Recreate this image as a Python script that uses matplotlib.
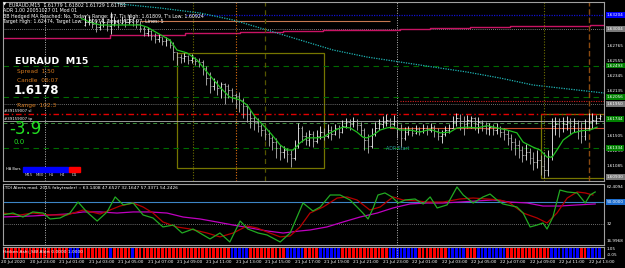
import matplotlib
matplotlib.use("Agg")
import matplotlib.pyplot as plt
import matplotlib.transforms as mtransforms
from matplotlib.patches import Rectangle

W, H = 625, 268

# ---- EURAUD M15 bars (bar 0 = 20 Jul 21:00), only visible bars ----
first_bar = 23
open_first = 1.6306
closes = [1.6310, 1.6313, 1.6307, 1.6303, 1.6306, 1.6310, 1.6305, 1.6307, 1.6312, 1.6309,
          1.6313, 1.6310, 1.6314, 1.6312, 1.6307, 1.6302, 1.6295, 1.6298, 1.6291, 1.6286,
          1.6289, 1.6284, 1.6285, 1.6278, 1.6268, 1.6261, 1.6260, 1.6263, 1.6257, 1.6260,
          1.6256, 1.6254, 1.6246, 1.6232, 1.6221, 1.6226, 1.6218, 1.6223, 1.6221, 1.6215,
          1.6208, 1.6207, 1.6201, 1.6193, 1.6181, 1.6176, 1.6170, 1.6165, 1.6159, 1.6153,
          1.6148, 1.6142, 1.6134, 1.6128, 1.6131, 1.6125, 1.6120, 1.6137, 1.6162, 1.6151,
          1.6145, 1.6153, 1.6144, 1.6151, 1.6156, 1.6151, 1.6159, 1.6153, 1.6162, 1.6156,
          1.6165, 1.6170, 1.6167, 1.6172, 1.6166, 1.6159, 1.6145, 1.6137, 1.6153, 1.6162,
          1.6167, 1.6170, 1.6173, 1.6167, 1.6172, 1.6162, 1.6148, 1.6156, 1.6159, 1.6155,
          1.6160, 1.6158, 1.6162, 1.6159, 1.6163, 1.6158, 1.6151, 1.6153, 1.6159, 1.6162,
          1.6170, 1.6176, 1.6172, 1.6167, 1.6173, 1.6176, 1.6167, 1.6170, 1.6165, 1.6160,
          1.6163, 1.6159, 1.6162, 1.6156, 1.6153, 1.6148, 1.6142, 1.6138, 1.6131, 1.6124,
          1.6128, 1.6120, 1.6114, 1.6117, 1.6109, 1.6103, 1.6123, 1.6165, 1.6167, 1.6162,
          1.6167, 1.6170, 1.6165, 1.6169, 1.6159, 1.6151, 1.6162, 1.6170, 1.6173, 1.6176,
          1.6178]
highs = [1.6320, 1.6319, 1.6316, 1.6313, 1.6312, 1.6316, 1.6313, 1.6324, 1.6317, 1.6314,
         1.6319, 1.6316, 1.6320, 1.6317, 1.6314, 1.6310, 1.6305, 1.6303, 1.6299, 1.6295,
         1.6293, 1.6289, 1.6289, 1.6286, 1.6282, 1.6268, 1.6265, 1.6267, 1.6264, 1.6265,
         1.6261, 1.6260, 1.6257, 1.6249, 1.6240, 1.6232, 1.6229, 1.6226, 1.6225, 1.6223,
         1.6218, 1.6211, 1.6212, 1.6204, 1.6195, 1.6187, 1.6180, 1.6176, 1.6167, 1.6162,
         1.6159, 1.6151, 1.6148, 1.6138, 1.6137, 1.6134, 1.6131, 1.6145, 1.6169, 1.6165,
         1.6156, 1.6159, 1.6158, 1.6159, 1.6165, 1.6162, 1.6167, 1.6165, 1.6167, 1.6166,
         1.6173, 1.6176, 1.6174, 1.6177, 1.6174, 1.6170, 1.6162, 1.6153, 1.6162, 1.6170,
         1.6174, 1.6179, 1.6181, 1.6176, 1.6180, 1.6173, 1.6167, 1.6163, 1.6165, 1.6163,
         1.6166, 1.6163, 1.6167, 1.6166, 1.6169, 1.6166, 1.6162, 1.6159, 1.6165, 1.6167,
         1.6179, 1.6183, 1.6181, 1.6179, 1.6180, 1.6179, 1.6177, 1.6177, 1.6173, 1.6170,
         1.6169, 1.6167, 1.6169, 1.6165, 1.6162, 1.6159, 1.6153, 1.6148, 1.6145, 1.6137,
         1.6139, 1.6134, 1.6128, 1.6131, 1.6124, 1.6128, 1.6131, 1.6176, 1.6177, 1.6176,
         1.6177, 1.6179, 1.6176, 1.6176, 1.6173, 1.6170, 1.6174, 1.6183, 1.6183, 1.6180,
         1.6181]
lows = [1.6305, 1.6306, 1.6302, 1.6296, 1.6299, 1.6303, 1.6298, 1.6293, 1.6305, 1.6302,
        1.6307, 1.6303, 1.6307, 1.6305, 1.6302, 1.6296, 1.6291, 1.6291, 1.6285, 1.6281,
        1.6282, 1.6278, 1.6277, 1.6274, 1.6257, 1.6250, 1.6253, 1.6254, 1.6251, 1.6253,
        1.6250, 1.6247, 1.6236, 1.6222, 1.6211, 1.6215, 1.6208, 1.6204, 1.6195, 1.6204,
        1.6198, 1.6190, 1.6184, 1.6176, 1.6170, 1.6162, 1.6159, 1.6156, 1.6151, 1.6145,
        1.6137, 1.6131, 1.6120, 1.6117, 1.6120, 1.6114, 1.6107, 1.6117, 1.6134, 1.6142,
        1.6138, 1.6137, 1.6135, 1.6141, 1.6146, 1.6145, 1.6148, 1.6145, 1.6152, 1.6148,
        1.6155, 1.6162, 1.6159, 1.6163, 1.6159, 1.6151, 1.6131, 1.6127, 1.6134, 1.6151,
        1.6159, 1.6162, 1.6165, 1.6162, 1.6165, 1.6148, 1.6135, 1.6145, 1.6152, 1.6151,
        1.6153, 1.6152, 1.6155, 1.6152, 1.6156, 1.6149, 1.6145, 1.6141, 1.6151, 1.6155,
        1.6162, 1.6165, 1.6159, 1.6152, 1.6162, 1.6162, 1.6159, 1.6155, 1.6158, 1.6153,
        1.6152, 1.6152, 1.6153, 1.6149, 1.6145, 1.6138, 1.6131, 1.6124, 1.6120, 1.6114,
        1.6117, 1.6111, 1.6103, 1.6106, 1.6096, 1.6092, 1.6095, 1.6117, 1.6152, 1.6149,
        1.6156, 1.6159, 1.6153, 1.6156, 1.6146, 1.6141, 1.6145, 1.6159, 1.6162, 1.6167,
        1.6173]

# fast MA (green) and slow MA (cyan dotted)
ma_bars = [22, 24.4, 27.1, 38, 39.9, 42.6, 46.1, 48, 50.7, 53.5, 56.2, 59.7, 62.4, 65.2, 67.1,
           69.3, 72, 73.9, 76.1, 78, 79.6, 81.5, 83.4, 86.1, 87.8, 89.7, 91.6, 93.2, 95.1, 97,
           98.6, 99.7, 101.4, 103.3, 105.2, 106.8, 108.7, 111.4, 114.1, 116.9, 119.6, 122.3,
           124.2, 126.9, 129.7, 132.4, 135.1, 137.8, 140.5, 142.2, 144.9, 146.8, 148.7, 150.1,
           151.4, 153.1, 155.8, 158.2, 160.4, 162.3]
ma_vals = [1.6315, 1.6310, 1.6306, 1.6306, 1.6303, 1.6295, 1.6285, 1.6271, 1.6267, 1.6257,
           1.6240, 1.6219, 1.6205, 1.6201, 1.6194, 1.6177, 1.6163, 1.6152, 1.6138, 1.6131,
           1.6131, 1.6141, 1.6148, 1.6148, 1.6149, 1.6155, 1.6160, 1.6163, 1.6162, 1.6156,
           1.6149, 1.6148, 1.6152, 1.6159, 1.6162, 1.6163, 1.6159, 1.6159, 1.6156, 1.6160,
           1.6155, 1.6156, 1.6162, 1.6163, 1.6162, 1.6165, 1.6162, 1.6159, 1.6155, 1.6142,
           1.6135, 1.6131, 1.6121, 1.6121, 1.6131, 1.6145, 1.6155, 1.6158, 1.6159, 1.6163]
slow_bars = [27.1, 32.5, 43.4, 54.3, 63.3, 72.5, 81.5, 90.5, 99.7, 108.7, 117.7, 126.9,
             135.9, 144.9, 156.9, 164.2]
slow_vals = [1.63438, 1.63354, 1.63298, 1.63228, 1.63130, 1.62990, 1.62850, 1.62710,
             1.62612, 1.62542, 1.62472, 1.62402, 1.62318, 1.62220, 1.62150, 1.62108]
h1_bars = [0, 29.8, 50.2, 65.2, 76.9, 87.8, 93.2, 108.7, 116.9, 127.8, 138.6, 150.9, 160.4, 164.2]
h1_vals = [1.62878, 1.62920, 1.62948, 1.62962, 1.62976, 1.62986, 1.62997, 1.63004, 1.63014,
           1.63028, 1.63042, 1.63053, 1.63064, 1.63064]

# levels
blue_lvl = 1.63204
orange_lvl = 1.63112
gray_hi_lvl = 1.63004
green_lvls = [1.62493, 1.62056, 1.61334]
red_dot_lvl = 1.61996
gray_lo_lvl = 1.61950
today_high = 1.61809
bid_lvl = 1.61720
green_lt_lvl = 1.61688
today_low_line = 1.61624
box1 = (48.0, 88.0, 1.61054, 1.62664)
box2 = (147.0, 166.0, 1.60914, 1.61810)
day_seps = [12, 108]

# TDI
tdi_g_x = [0.4, 3.4, 6.1, 8.8, 11.6, 13.5, 16.2, 18.9, 21.1, 23.5, 26.3, 29, 31.2, 33.4, 36.1,
           38.8, 41.5, 44.2, 47, 49.4, 52.4, 57, 59.7, 62.4, 65.2, 67.3, 70.1, 72.5, 76.1, 78.8,
           82.3, 85, 87, 89.7, 92.4, 95.1, 97, 98.6, 100, 101.4, 102.7, 104.6, 106.5, 108.2,
           110.1, 112.8, 115, 116.9, 118.8, 121.5, 124.2, 125.9, 128.6, 131.3, 133.2, 135.1,
           136.7, 140.5, 142.2, 144.1, 146, 147.6, 148.7, 150.3, 152.2, 154.2, 156.9, 159.1,
           160.4, 161.8]
tdi_g_y = [39.3, 40.9, 37.6, 41.8, 40.9, 36.0, 36.8, 40.9, 50.0, 41.8, 34.3, 41.8, 54.2, 47.6,
           49.2, 39.3, 36.8, 29.4, 31.0, 24.4, 27.7, 19.5, 24.4, 17.0, 34.3, 27.7, 24.4, 22.8,
           17.0, 24.4, 49.2, 42.6, 45.9, 55.8, 55.8, 51.7, 45.9, 40.9, 36.0, 45.1, 55.8, 57.5,
           54.2, 49.2, 51.7, 52.5, 48.4, 54.2, 45.1, 47.6, 62.4, 55.8, 49.2, 54.2, 56.6, 51.7,
           48.4, 45.9, 40.9, 29.4, 31.0, 32.7, 27.7, 37.6, 59.9, 58.3, 57.5, 49.2, 55.8, 58.3]
tdi_r_x = [0.4, 5.3, 8.8, 13.5, 18.1, 22.5, 27.1, 29.8, 32.5, 36.1, 38.8, 41.5, 44.2, 48, 51.6,
           56.2, 59.7, 63.3, 67.1, 69.8, 72.5, 76.1, 78.8, 81.5, 84.2, 87.8, 91.6, 94.3, 97,
           100.5, 103.3, 106.8, 109.5, 113.3, 116.1, 120.4, 125, 128.6, 132.4, 135.9, 138.6,
           142.2, 146, 148.7, 151.4, 154.2, 156.9, 159.1, 161.2]
tdi_r_y = [40.9, 39.3, 40.9, 39.3, 39.3, 43.4, 40.1, 43.4, 46.7, 49.2, 45.9, 40.9, 33.5, 29.4,
           27.7, 24.4, 21.2, 24.4, 30.2, 28.6, 25.3, 21.2, 22.0, 29.4, 40.9, 45.9, 53.3, 54.2,
           51.7, 43.4, 45.9, 54.2, 51.7, 50.9, 50.0, 50.0, 52.5, 53.3, 52.5, 51.7, 49.2, 40.9,
           36.8, 32.7, 40.9, 53.3, 58.3, 57.5, 55.8]
tdi_m_x = [0, 8.8, 18.1, 22.5, 27.1, 31.7, 36.1, 40.7, 45.3, 49.7, 54.3, 58.9, 63.3, 67.9, 72.5,
           76.9, 81.5, 84.2, 88.8, 93.2, 97.8, 102.5, 106.8, 111.4, 116.1, 120.4, 125, 129.7,
           134, 138.6, 143.3, 147.6, 152.2, 156.9, 161.8]
tdi_m_y = [37.6, 38.5, 40.1, 41.8, 41.8, 40.9, 41.8, 41.8, 40.9, 37.6, 36.0, 33.5, 31.0, 28.6,
           26.1, 24.4, 26.1, 26.9, 29.4, 33.5, 37.6, 40.9, 45.1, 48.4, 49.2, 49.2, 50.0, 50.9,
           51.7, 50.0, 49.2, 46.7, 46.7, 47.6, 48.4]

# Heiken Ashi colours per bar (r = bear, b = bull)
ha_colors = ("rrrrrrrrrrrrrrrrrrr bbb rrrrrrrr b rrrrr b rrrrrrrrrrrrrrrrrrrrrrrrrr bbbbb "
             "rrrrrrrrrr bbbbb rrrr bbbbbb rrrrrrrrrrrrr bbbbbbbb rrrrrrrr bbbbb rrr "
             "bbbbbbbb rrrrrrrrrrrr bbbbbbbb rr bbbb").replace(" ", "")

time_ticks = list(range(0, 161, 8))
time_labels = ["20 Jul 2020", "20 Jul 23:00", "21 Jul 01:00", "21 Jul 03:00", "21 Jul 05:00",
               "21 Jul 07:00", "21 Jul 09:00", "21 Jul 11:00", "21 Jul 13:00", "21 Jul 15:00",
               "21 Jul 17:00", "21 Jul 19:00", "21 Jul 21:00", "21 Jul 23:00", "22 Jul 01:00",
               "22 Jul 03:00", "22 Jul 05:00", "22 Jul 07:00", "22 Jul 09:00", "22 Jul 11:00",
               "22 Jul 13:00"]
price_ticks = [1.62765, 1.62555, 1.62345, 1.62135, 1.61505, 1.61295, 1.61085]


def rect(x0, y0, x1, y1):
    return [x0 / W, 1 - y1 / H, (x1 - x0) / W, (y1 - y0) / H]


def ftext(x, y, s, **kw):
    kw.setdefault("color", "white")
    kw.setdefault("fontsize", 3.4)
    fig.text(x / W, 1 - y / H, s, va="center", ha=kw.pop("ha", "left"), **kw)


fig = plt.figure(figsize=(W / 100, H / 100), dpi=100, facecolor="black")
XL = (0.68, 164.2)

ax = fig.add_axes(rect(3, 1.5, 604, 181))
ax_tdi = fig.add_axes(rect(3, 183.5, 604, 245))
ax_ha = fig.add_axes(rect(3, 247, 604, 258))
for a in (ax, ax_tdi, ax_ha):
    a.set_facecolor("black")
    a.set_xlim(*XL)
    a.set_xticks([])
    a.set_yticks([])
    for sp in a.spines.values():
        sp.set_color("#a0a0a0")
        sp.set_linewidth(0.8)
    for d in day_seps:
        a.axvline(d, color="#b8b8b8", lw=0.7, ls=(0, (1, 1.5)))

ax.set_ylim(1.60876, 1.63389)
ax_tdi.set_ylim(14.5, 65.3)
ax_ha.set_ylim(0, 1)

# ---- main chart lines ----
ax.axhline(gray_hi_lvl, color="#a0a0a0", lw=0.6, ls=(0, (1, 1.5)))
ax.hlines(blue_lvl, 50.5, XL[1], color="#1010d0", lw=0.9, ls=(0, (1, 1)))
ax.hlines(orange_lvl, 38, 106, color="#c87850", lw=0.8)
for g in green_lvls:
    ax.axhline(g, color="#006a00", lw=0.8, ls=(0, (5, 4)))
ax.hlines(red_dot_lvl, 108.7, XL[1], color="#d02020", lw=0.8, ls=(0, (1, 1.2)))
ax.axhline(gray_lo_lvl, color="#909090", lw=0.6, ls=(0, (1, 1.5)))
ax.axhline(today_high, color="#e00000", lw=1.0, ls=(0, (4, 2, 1, 2)))
ax.axhline(bid_lvl, color="#b0b0b0", lw=0.6)
ax.axhline(green_lt_lvl, color="#3c8c3c", lw=0.7, ls=(0, (4, 3)))
ax.hlines(today_low_line, 106, XL[1], color="#c84828", lw=0.8)
ax.plot(h1_bars, h1_vals, color="#c81464", lw=1.0, drawstyle="steps-post")
ax.plot(slow_bars, slow_vals, color="#1eb4b4", lw=0.9, ls=(0, (1, 1)))

ax.axvline(52.4, color="#6e6e00", lw=0.8, ls=(0, (1, 1.5)))
ax.axvline(64.1, color="#e07010", lw=0.8, ls=(0, (1, 1.5)))
ax.axvline(72.1, color="#555500", lw=0.9, ls=(0, (4, 3)))
ax.axvline(147.9, color="#6e6e00", lw=0.8, ls=(0, (1, 1.5)))
ax.axvline(160.1, color="#8a4a10", lw=1.0, ls=(0, (4, 2)))

for x0, x1, y0, y1 in (box1, box2):
    ax.add_patch(Rectangle((x0, y0), x1 - x0, y1 - y0, fill=False, ec="#767600", lw=0.9))

# OHLC bars
bars = list(range(first_bar, first_bar + len(closes)))
opens = [open_first] + closes[:-1]
hi = [max(h, o, c) for h, o, c in zip(highs, opens, closes)]
lo = [min(l, o, c) for l, o, c in zip(lows, opens, closes)]
cols = ["#f4f4f4" if c >= o else "#b8b8b8" for o, c in zip(opens, closes)]
ax.vlines(bars, lo, hi, colors=cols, lw=0.6)
ax.hlines(opens, [b - 0.35 for b in bars], bars, colors=cols, lw=0.5)
ax.hlines(closes, bars, [b + 0.35 for b in bars], colors=cols, lw=0.5)
ax.plot(ma_bars, ma_vals, color="#20c020", lw=0.9)

# ---- TDI ----
ax_tdi.axhline(50, color="#3d85c6", lw=0.8)
ax_tdi.axhline(32, color="#909090", lw=0.6, ls=(0, (1, 1.5)))
ax_tdi.plot(tdi_m_x, tdi_m_y, color="#c000c0", lw=0.9)
ax_tdi.plot(tdi_r_x, tdi_r_y, color="#b40000", lw=0.9)
ax_tdi.plot(tdi_g_x, tdi_g_y, color="#22aa22", lw=0.9)

# ---- Heiken Ashi strip ----
ha_x = list(range(len(ha_colors)))
ax_ha.bar(ha_x, [1] * len(ha_x), width=0.72, bottom=0,
          color=["#ff0000" if c == "r" else "#0000ff" for c in ha_colors])

# ---- texts ----
ftext(3, 5, "\u25bc", fontsize=3)
ftext(9, 5, "EURAUD,M15  1.61779 1.61802 1.61729 1.61781")
ftext(3, 11, "ADR 1.00 20051027 01 Mod 01")
ftext(3, 16.5, "BB Hedged MA Reached: No, Today's Range: 87, T's High: 1.61809, T's Low: 1.60924")
ftext(3, 22, "Target High: 1.62474, Target Low: 1.60974, Target ADR: 97, Lines: 5")
ftext(15, 62, "EURAUD  M15", fontsize=6.8, fontweight="bold")
ftext(17, 71, "Spread  1.50", color="#d2781e", fontsize=4.2)
ftext(17, 80, "Candle  06:07", color="#d2781e", fontsize=4.2)
ftext(14, 90, "1.6178", fontsize=8.5, fontweight="bold")
ftext(17, 105, "Range  102.3", color="#d2781e", fontsize=4.2)
ftext(4, 111, "#39159007 sl", fontsize=2.8)
ftext(4, 119.5, "#39159007 tp", fontsize=2.8)
ftext(9, 129.5, "-3.9", color="#22e022", fontsize=12)
ftext(14, 141.5, "0.0", color="#22e022", fontsize=5)
ftext(386, 148, "ADR Start", color="#2e9a9a", fontsize=3.4)

# higher timeframe boxes
tf_names = ["M15", "M30", "H1", "H4", "D1"]
tf_cols = ["#0000ff", "#0000ff", "#0000ff", "#0000ff", "#ff0000"]
ftext(6, 169, "HA Bars", fontsize=2.6)
for i, (n, c) in enumerate(zip(tf_names, tf_cols)):
    x0 = 23 + i * 11.4
    fig.add_artist(Rectangle((x0 / W, 1 - 171.5 / H), 11 / W, 4.5 / H, color=c,
                             transform=fig.transFigure))
    ftext(x0 + 5.5, 175, n, fontsize=2.8, ha="center", color="#d0d0d0")

ftext(3, 188, "(TDI Alerts mod. 2015 fabytrader) :: 63.1408 47.6527 32.1647 57.3371 54.2426",
      fontsize=3.2)
ftext(3, 251.5, "Heiken Ashi_SW Alert 0.0000 1.0000", fontsize=3.2)

# time axis
tt = mtransforms.blended_transform_factory(ax_ha.transData, fig.transFigure)
for t, s in zip(time_ticks, time_labels):
    fig.text(t, 1 - 262.5 / H, s, transform=tt, color="white", fontsize=3.1,
             va="center", ha="left")

# right price scale
RS = 3.0
pt = mtransforms.blended_transform_factory(fig.transFigure, ax.transData)
for p in price_ticks:
    fig.text(607 / W, p, f"{p:.5f}", transform=pt, color="white", fontsize=RS, va="center")
for p, fc in ((blue_lvl, "#0000ff"), (gray_hi_lvl, "#7a7a7a"), (green_lvls[0], "#008000"),
              (green_lvls[1], "#008000"), (gray_lo_lvl, "#7a7a7a"), (1.61744, "#008000"),
              (green_lvls[2], "#008000"), (1.60930, "#7a7a7a")):
    fig.text(607 / W, p, f"{p:.5f}", transform=pt, color="white", fontsize=RS, va="center",
             bbox=dict(boxstyle="square,pad=0.2", fc=fc, ec="none"))

tp = mtransforms.blended_transform_factory(fig.transFigure, ax_tdi.transData)
fig.text(607 / W, 62.41, "62.4094", transform=tp, color="white", fontsize=RS, va="center")
fig.text(607 / W, 50, "50.0000", transform=tp, color="white", fontsize=RS, va="center",
         bbox=dict(boxstyle="square,pad=0.2", fc="#1e6fd0", ec="none"))
fig.text(607 / W, 32, "32", transform=tp, color="white", fontsize=RS, va="center")
fig.text(607 / W, 18.0, "16.9968", transform=tp, color="white", fontsize=RS, va="center")
ftext(607, 249.5, "1.05", fontsize=RS)
ftext(607, 255.5, "-0.05", fontsize=RS)

fig.savefig("out.png", dpi=100, facecolor="black")
